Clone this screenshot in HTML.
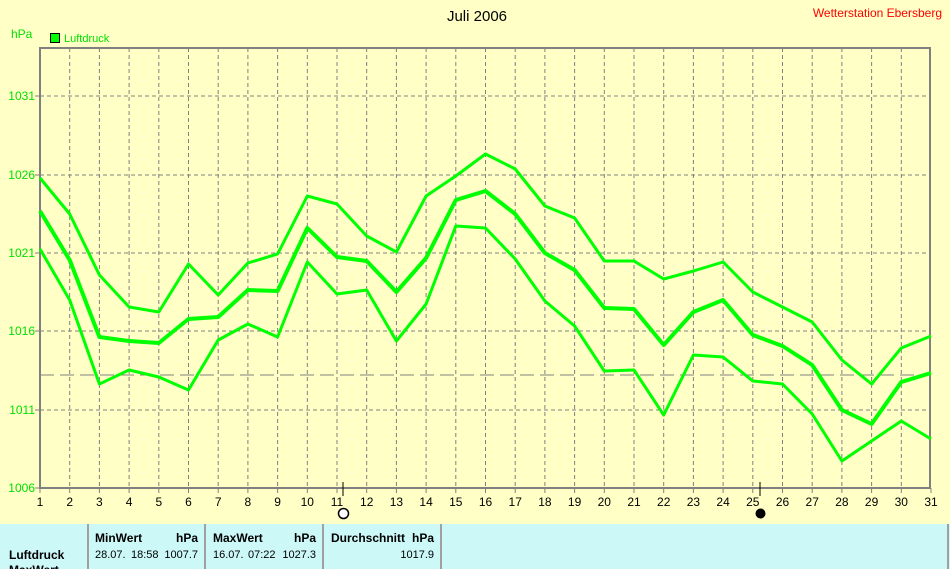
<!DOCTYPE html>
<html><head><meta charset="utf-8"><style>
body{margin:0;width:950px;height:569px;overflow:hidden;background:#ffffc6;font-family:"Liberation Sans",sans-serif}
</style></head><body>
<svg width="950" height="569" xmlns="http://www.w3.org/2000/svg" style="position:absolute;left:0;top:0">
<rect width="950" height="569" fill="#ffffc6"/>
<text x="477" y="21" font-size="15" text-anchor="middle" fill="#000">Juli 2006</text>
<text x="942" y="17" font-size="12" text-anchor="end" fill="#ff0000">Wetterstation Ebersberg</text>
<text x="11" y="38" font-size="12" fill="#00e000">hPa</text>
<rect x="50.5" y="33.5" width="9" height="9" fill="#00ff00" stroke="#000"/>
<text x="64" y="42" font-size="11" fill="#00e000">Luftdruck</text>
<g id="grid" stroke="#808080" stroke-dasharray="4,3" stroke-width="1"></g>
<rect x="40" y="48" width="890" height="440" fill="none" stroke="#808080" stroke-width="2"/>
<g id="lbl" font-size="12"></g>
<line x1="40" y1="375" x2="930" y2="375" stroke="#808080" stroke-dasharray="14,6"/>
<g id="ser" fill="none" stroke="#00ff00" stroke-linejoin="round"></g>
<line x1="343" y1="482" x2="343" y2="496" stroke="#000"/>
<circle cx="343.5" cy="513.5" r="5" fill="#fff" stroke="#000" stroke-width="1.5"/>
<line x1="760" y1="482" x2="760" y2="496" stroke="#000"/>
<circle cx="760.5" cy="513.5" r="5" fill="#000"/>
<rect x="0" y="524" width="950" height="45" fill="#ccf8f8"/>
<g stroke="#a0a0a0" stroke-width="2"><line x1="88" y1="524" x2="88" y2="569"/><line x1="205" y1="524" x2="205" y2="569"/><line x1="323" y1="524" x2="323" y2="569"/><line x1="441" y1="524" x2="441" y2="569"/><line x1="948" y1="524" x2="948" y2="569"/></g>
<g font-size="12" fill="#000">
<text x="9" y="559" font-weight="bold">Luftdruck</text>
<text x="9" y="574" font-weight="bold">MaxWert</text>
<text x="95" y="542" font-weight="bold">MinWert</text><text x="198" y="542" font-weight="bold" text-anchor="end">hPa</text>
<text x="213" y="542" font-weight="bold">MaxWert</text><text x="316" y="542" font-weight="bold" text-anchor="end">hPa</text>
<text x="331" y="542" font-weight="bold">Durchschnitt</text><text x="434" y="542" font-weight="bold" text-anchor="end">hPa</text>
</g>
<g font-size="11" fill="#000">
<text x="95" y="558">28.07.</text><text x="131" y="558">18:58</text><text x="198" y="558" text-anchor="end">1007.7</text>
<text x="213" y="558">16.07.</text><text x="248" y="558">07:22</text><text x="316" y="558" text-anchor="end">1027.3</text>
<text x="434" y="558" text-anchor="end">1017.9</text>
</g>
</svg>
<script>
var ns="http://www.w3.org/2000/svg";
function X(d){return 40+(d-1)*29.7;}
var g=document.getElementById('grid'),l=document.getElementById('lbl'),s=document.getElementById('ser');
function el(p,t,a,txt){var e=document.createElementNS(ns,t);for(var k in a)e.setAttribute(k,a[k]);if(txt)e.textContent=txt;p.appendChild(e);return e;}
for(var d=2;d<=30;d++)el(g,'line',{x1:X(d),y1:48,x2:X(d),y2:488});
[96,175,253,331,410].forEach(function(y){el(g,'line',{x1:40,y1:y,x2:930,y2:y});});
[[1031,96],[1026,175],[1021,253],[1016,331],[1011,410],[1006,488]].forEach(function(v){
el(l,'text',{x:35,y:v[1]+4,'text-anchor':'end',fill:'#00e000'},String(v[0]));
el(l,'line',{x1:35,y1:v[1],x2:40,y2:v[1],stroke:'#808080'});});
for(var d=1;d<=31;d++){el(l,'text',{x:X(d),y:506,'text-anchor':'middle',fill:'#000'},String(d));
el(l,'line',{x1:X(d),y1:488,x2:X(d),y2:493,stroke:'#808080'});}
var up=[178,214,275,307,312,264,295,263,254,196,204,236,252,196,176,154,169,206,218,261,261,279,271,262,292,307,322,360,384,348,336];
var mid=[211,260,337,341,343,319,317,290,291,228,257,261,292,258,200,191,214,253,270,308,309,345,312,300,335,346,365,410,424,382,373];
var lo=[249,300,384,370,377,390,340,324,337,262,294,290,341,304,226,228,259,301,326,371,370,415,355,357,381,384,414,461,441,421,439];
[[up,3],[mid,4],[lo,3]].forEach(function(a){el(s,'polyline',{points:a[0].map(function(y,i){return X(i+1)+','+y;}).join(' '),'stroke-width':a[1]});});
</script>
</body></html>
